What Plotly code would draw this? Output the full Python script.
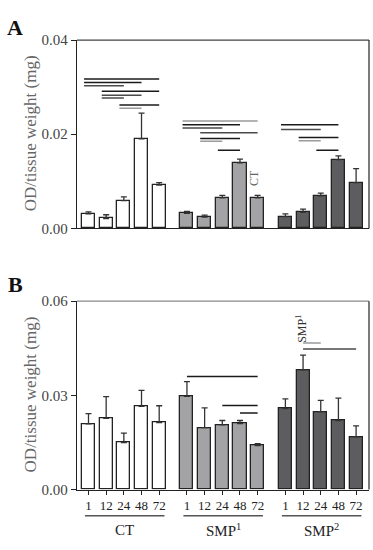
import plotly.graph_objects as go

groups = ["CT", "SMP<sup>1</sup>", "SMP<sup>2</sup>"]
times = ["1", "12", "24", "48", "72"]

# Panel A values (mean, upper SEM)
a_ct = [0.0031, 0.0021, 0.0059, 0.0190, 0.0092]
a_ct_err = [0.0004, 0.0008, 0.0008, 0.0055, 0.0005]
a_smp1 = [0.0032, 0.0024, 0.0065, 0.0139, 0.0065]
a_smp1_err = [0.0004, 0.0004, 0.0005, 0.0008, 0.0005]
a_smp2 = [0.0025, 0.0034, 0.0069, 0.0146, 0.0097]
a_smp2_err = [0.0006, 0.0007, 0.0006, 0.0008, 0.0030]

# Panel B values
b_ct = [0.0209, 0.0227, 0.0150, 0.0265, 0.0213]
b_ct_err = [0.0033, 0.0069, 0.0030, 0.0051, 0.0054]
b_smp1 = [0.0297, 0.0197, 0.0206, 0.0210, 0.0140]
b_smp1_err = [0.0047, 0.0063, 0.0014, 0.0010, 0.0006]
b_smp2 = [0.0258, 0.0381, 0.0248, 0.0220, 0.0168]
b_smp2_err = [0.0031, 0.0047, 0.0036, 0.0071, 0.0035]

# significance lines: (group, from bar, to bar, y, tone)
a_sig = [
    (0, 0, 4, 0.0317, "k"), (0, 0, 3, 0.0310, "k"), (0, 0, 2, 0.0303, "d"),
    (0, 1, 4, 0.0291, "k"), (0, 1, 3, 0.0283, "d"), (0, 1, 2, 0.0277, "d"),
    (0, 2, 4, 0.0262, "k"), (0, 2, 3, 0.0255, "l"),
    (1, 0, 4, 0.0228, "l"), (1, 0, 3, 0.0220, "k"), (1, 0, 2, 0.0213, "d"),
    (1, 1, 4, 0.0203, "d"), (1, 1, 3, 0.0191, "k"), (1, 1, 2, 0.0185, "l"),
    (1, 2, 3, 0.0166, "k"),
    (2, 0, 3, 0.0220, "k"), (2, 0, 2, 0.0210, "d"),
    (2, 1, 3, 0.0193, "k"), (2, 1, 2, 0.0186, "l"),
    (2, 2, 3, 0.0166, "k"),
]
b_sig = [
    (1, 0, 4, 0.0360, "k"), (1, 2, 4, 0.0268, "k"), (1, 3, 4, 0.0244, "k"),
    (2, 1, 2, 0.0467, "l"), (2, 1, 4, 0.0448, "d"),
]

tones = {"k": "#1a1a1a", "d": "#4a4a4a", "l": "#9a9a9a"}
fills = ["#ffffff", "#a3a3a5", "#5d5d5f"]
STEP = 5.57
W, H = 373, 550
FONT = "Liberation Serif"


def pos(g, j):
    return g * STEP + j


def py(pixel_y):
    return 1 - pixel_y / H


fig = go.Figure()

panels = [
    ("x", "y", [a_ct, a_smp1, a_smp2], [a_ct_err, a_smp1_err, a_smp2_err]),
    ("x2", "y2", [b_ct, b_smp1, b_smp2], [b_ct_err, b_smp1_err, b_smp2_err]),
]
for xa, ya, means, errs in panels:
    for g in range(3):
        fig.add_trace(go.Bar(
            x=[pos(g, j) for j in range(5)], y=means[g],
            width=0.74, xaxis=xa, yaxis=ya,
            marker=dict(color=fills[g], line=dict(color="#222222", width=1.3)),
            error_y=dict(type="data", symmetric=False, array=errs[g],
                         arrayminus=[0] * 5, color="#333333",
                         thickness=1.3, width=3),
            showlegend=False, hoverinfo="skip",
        ))

shapes = []
for g, i, j, yv, t in a_sig:
    shapes.append(dict(type="line", xref="x", yref="y",
                       x0=pos(g, i) - 0.25, x1=pos(g, j), y0=yv, y1=yv,
                       line=dict(color=tones[t], width=1.5)))
for g, i, j, yv, t in b_sig:
    shapes.append(dict(type="line", xref="x2", yref="y2",
                       x0=pos(g, i), x1=pos(g, j), y0=yv, y1=yv,
                       line=dict(color=tones[t], width=1.5)))

# group underlines in panel B
for g in range(3):
    shapes.append(dict(type="line", xref="x2", yref="paper",
                       x0=pos(g, 0) - 0.2, x1=pos(g, 4) + 0.3,
                       y0=py(523), y1=py(523),
                       line=dict(color="#555555", width=1.5)))

# top frame lines
shapes.append(dict(type="line", xref="paper", yref="paper",
                   x0=77 / W, x1=369 / W, y0=py(33), y1=py(33),
                   line=dict(color="#444444", width=1.2)))
shapes.append(dict(type="line", xref="paper", yref="paper",
                   x0=77 / W, x1=369 / W, y0=py(302), y1=py(302),
                   line=dict(color="#888888", width=1.2)))
# right frame lines
shapes.append(dict(type="line", xref="paper", yref="paper", x0=369 / W, x1=369 / W,
                   y0=py(227), y1=py(33), line=dict(color="#222", width=1.2)))
shapes.append(dict(type="line", xref="paper", yref="paper", x0=369 / W, x1=369 / W,
                   y0=py(496), y1=py(302), line=dict(color="#222", width=1.2)))

C = dict(xanchor="center", yanchor="middle", showarrow=False)
annotations = [
    dict(text="<b>A</b>", x=15 / W, y=py(20), xref="paper", yref="paper",
         font=dict(size=22, family=FONT, color="#111"), **C),
    dict(text="<b>B</b>", x=15 / W, y=py(285), xref="paper", yref="paper",
         font=dict(size=22, family=FONT, color="#111"), **C),
    dict(text="OD/tissue weight (mg)", x=30 / W, y=py(129), xref="paper",
         yref="paper", textangle=-90,
         font=dict(size=17, family=FONT, color="#666"), **C),
    dict(text="OD/tissue weight (mg)", x=30 / W, y=py(398), xref="paper",
         yref="paper", textangle=-90,
         font=dict(size=17, family=FONT, color="#666"), **C),
    dict(text="CT", x=pos(1, 4) - 0.2, y=0.0107, xref="x", yref="y",
         textangle=-90, font=dict(size=12, family=FONT, color="#666"), **C),
    dict(text="SMP<sup>1</sup>", x=pos(2, 1) - 0.1, y=0.0513, xref="x2", yref="y2",
         textangle=-90, font=dict(size=12, family=FONT, color="#333"), **C),
]
for g in range(3):
    annotations.append(dict(text=groups[g], x=pos(g, 2) + 0.05, y=py(538),
                            xref="x2", yref="paper",
                            font=dict(size=15, family=FONT, color="#222"), **C))

xr = [-0.65, 2 * STEP + 4 + 0.73]
xdom = [77 / W, 369 / W]
ax_common = dict(showgrid=False, zeroline=False, showline=True,
                 linecolor="#222222", linewidth=1.3)

fig.update_layout(
    width=W, height=H, margin=dict(l=0, r=0, t=0, b=0),
    plot_bgcolor="white", paper_bgcolor="white",
    font=dict(family=FONT, size=12, color="#333"),
    bargap=0, shapes=shapes, annotations=annotations,
    xaxis=dict(domain=xdom, range=xr, showticklabels=False, ticks="",
               anchor="y", **ax_common),
    yaxis=dict(domain=[py(227), py(33)], range=[0, 0.04],
               tickvals=[0, 0.02, 0.04], ticktext=["0.00", "0.02", "0.04"],
               ticks="outside", ticklen=5, tickcolor="#222", anchor="x",
               tickfont=dict(size=15, color="#444", family=FONT), **ax_common),
    xaxis2=dict(domain=xdom, range=xr, anchor="y2",
                tickvals=[pos(g, j) for g in range(3) for j in range(5)],
                ticktext=times * 3, ticks="outside", ticklen=4,
                tickcolor="#222", tickfont=dict(size=13, color="#222", family=FONT),
                **ax_common),
    yaxis2=dict(domain=[py(496), py(302)], range=[0, 0.06],
                tickvals=[0, 0.03, 0.06], ticktext=["0.00", "0.03", "0.06"],
                ticks="outside", ticklen=5, tickcolor="#222", anchor="x2",
                tickfont=dict(size=15, color="#444", family=FONT), **ax_common),
)

fig.write_html("out.html", config={"displayModeBar": False},
               post_script="document.body.style.margin='0';document.body.style.overflow='hidden';")
